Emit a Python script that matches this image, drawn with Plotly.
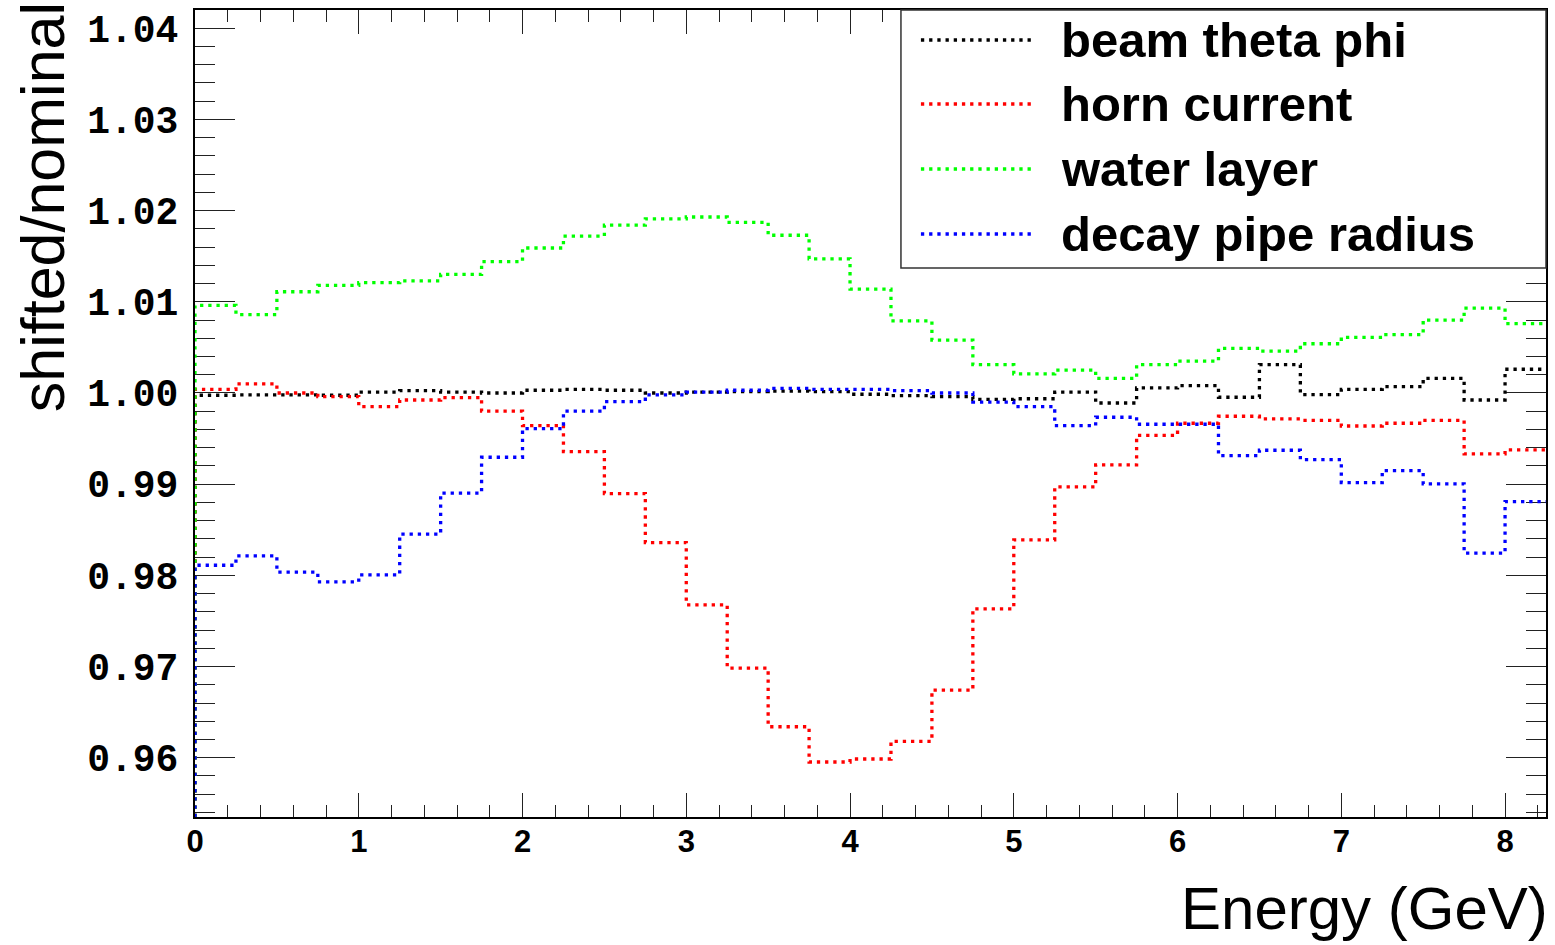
import plotly.graph_objects as go

# ---------------- data ----------------
bin_width = 0.25
n_bins = 33
bin_edges = [i * bin_width for i in range(n_bins + 1)]  # 0 .. 8.25 GeV

beam_theta_phi = [0.99975, 0.9998, 0.9998, 0.99975, 1.0001, 1.00025, 1.0001, 1.0000,
                  1.0003, 1.0004, 1.0003, 1.0000, 1.0001, 1.00014, 1.0002, 1.00015,
                  0.99986, 0.9997, 0.9996, 0.9993, 0.99937, 1.0001, 0.9989, 1.00055,
                  1.0008, 0.99953, 1.0031, 0.99982, 1.0004, 1.0007, 1.0016, 0.99923,
                  1.0026]
horn_current = [1.0004, 1.0010, 1.0000, 0.9996, 0.9985, 0.99923, 0.9995, 0.9980,
                0.99642, 0.99357, 0.98897, 0.9836, 0.97677, 0.96983, 0.9634, 0.95953,
                0.95986, 0.9618, 0.96742, 0.97633, 0.98389, 0.9897, 0.99211, 0.99536,
                0.99668, 0.99745, 0.99715, 0.9970, 0.99638, 0.99668, 0.9970, 0.99332,
                0.99375]
water_layer = [1.0096, 1.0086, 1.0111, 1.0118, 1.0121, 1.0123, 1.0130, 1.0144,
               1.0159, 1.0172, 1.0184, 1.0191, 1.0193, 1.0187, 1.0173, 1.0147,
               1.0114, 1.0079, 1.0058, 1.0031, 1.0021, 1.0025, 1.0016, 1.0031,
               1.0035, 1.0049, 1.0046, 1.0054, 1.0061, 1.0064, 1.0080, 1.0093,
               1.0076]
decay_pipe_radius = [0.98111, 0.98214, 0.98035, 0.97929, 0.98005, 0.98452, 0.98901, 0.99295,
                     0.99609, 0.9980, 0.99905, 0.9998, 1.0001, 1.0003, 1.0005, 1.0004,
                     1.0004, 1.00025, 1.0000, 0.9990, 0.9985, 0.99642, 0.99734, 0.99657,
                     0.99657, 0.99313, 0.99372, 0.99269, 0.99017, 0.99149, 0.99003, 0.98243,
                     0.98809]

series_names = ["beam theta phi", "horn current", "water layer", "decay pipe radius"]
series_values = [beam_theta_phi, horn_current, water_layer, decay_pipe_radius]
series_colors = ["#000000", "#ff0000", "#00ff00", "#0000ff"]

y_tick_vals = [0.96, 0.97, 0.98, 0.99, 1.00, 1.01, 1.02, 1.03, 1.04]
x_tick_vals = [0, 1, 2, 3, 4, 5, 6, 7, 8]

X_MIN, X_MAX = 0.0, 8.25
Y_MIN, Y_MAX = 0.9535, 1.042

# ---------------- layout geometry ----------------
W, H = 1555, 945
L, R, T, B = 195, 7, 10, 128
PW, PH = W - L - R, H - T - B


def px(xp):
    return (xp - L) / PW


def py(yp):
    return (H - B - yp) / PH


DASH = "3.3px,4.9px"
LW = 3.3
fig = go.Figure()

for name, vals, col in zip(series_names, series_values, series_colors):
    xs = [bin_edges[0]] + bin_edges
    ys = [Y_MIN] + vals + [vals[-1]]
    fig.add_trace(go.Scatter(
        x=xs, y=ys, mode="lines", name=name, showlegend=False,
        line=dict(color=col, width=LW, dash=DASH, shape="hv"),
        hoverinfo="skip",
    ))

# ---------------- legend (drawn) ----------------
shapes = [dict(type="rect", xref="paper", yref="paper",
               x0=px(902), x1=px(1548), y0=py(268), y1=py(10),
               line=dict(color="#333333", width=1.5), fillcolor="white", layer="above")]
annotations = []
row_y = [40, 104, 169, 234]
for name, col, ry in zip(series_names, series_colors, row_y):
    shapes.append(dict(type="line", xref="paper", yref="paper",
                       x0=px(922), x1=px(1035), y0=py(ry), y1=py(ry),
                       line=dict(color=col, width=LW, dash=DASH), layer="above"))
    annotations.append(dict(xref="paper", yref="paper", x=px(1060), y=py(ry),
                            xanchor="left", yanchor="middle", showarrow=False,
                            text=name,
                            font=dict(family="Liberation Sans, Arial, sans-serif",
                                      size=49, color="black", weight="bold")))

# axis titles
annotations.append(dict(xref="paper", yref="paper", x=px(1552), y=py(908),
                        xanchor="right", yanchor="middle", showarrow=False,
                        text="Energy (GeV)",
                        font=dict(family="Liberation Sans, Arial, sans-serif", size=60, color="black")))
annotations.append(dict(xref="paper", yref="paper", x=px(43), y=py(0),
                        xanchor="center", yanchor="top", showarrow=False, textangle=-90,
                        text="shifted/nominal",
                        font=dict(family="Liberation Sans, Arial, sans-serif", size=61, color="black")))

fig.update_layout(
    width=W, height=H,
    margin=dict(l=L, r=R, t=T, b=B),
    paper_bgcolor="white", plot_bgcolor="white",
    showlegend=False,
    shapes=shapes, annotations=annotations,
)

fig.update_xaxes(
    range=[X_MIN, X_MAX], showgrid=False, zeroline=False,
    showline=True, linecolor="black", linewidth=2, mirror="allticks",
    ticks="inside", ticklen=24, tickwidth=1, tickcolor="#222222",
    tickmode="array", tickvals=x_tick_vals, ticktext=[str(v) for v in x_tick_vals],
    tickfont=dict(family="Liberation Sans, Arial, sans-serif", size=31, color="black", weight="bold"),
    ticklabelstandoff=-4,
    minor=dict(ticks="inside", ticklen=12, tickwidth=1, tickcolor="#222222", dtick=0.2, tick0=0),
    layer="below traces",
)
fig.update_yaxes(
    range=[Y_MIN, Y_MAX], showgrid=False, zeroline=False,
    showline=True, linecolor="black", linewidth=2, mirror="allticks",
    ticks="inside", ticklen=40, tickwidth=1, tickcolor="#222222",
    tickmode="array", tickvals=y_tick_vals, ticktext=["%.2f" % v for v in y_tick_vals],
    tickfont=dict(family="Liberation Mono, Courier New, monospace", size=38, color="black", weight="bold"),
    ticklabelstandoff=7,
    minor=dict(ticks="inside", ticklen=20, tickwidth=1, tickcolor="#222222", dtick=0.002, tick0=0.96),
    layer="below traces",
)

fig.write_html("out.html")
